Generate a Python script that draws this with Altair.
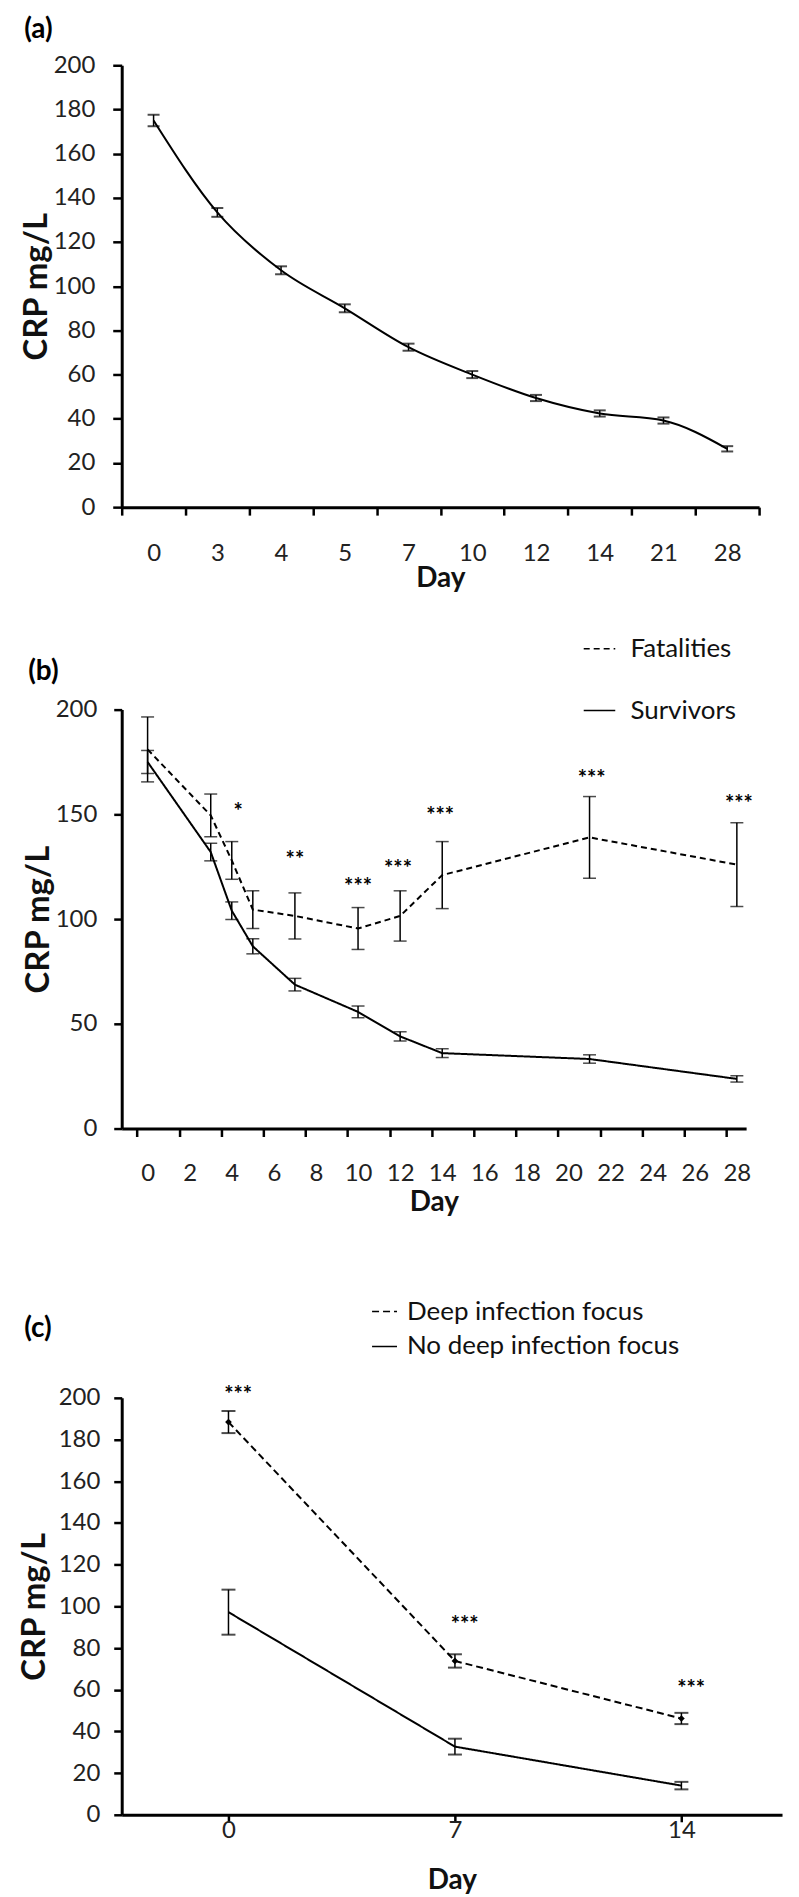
import altair as alt
import pandas as pd

FONT = "Lato"

# ---------------- Panel (a) ----------------
a_days = ["0", "3", "4", "5", "7", "10", "12", "14", "21", "28"]
a_mean = [175.0, 133.4, 107.2, 90.0, 72.4, 60.0, 49.4, 42.4, 39.2, 26.4]
a_err = [2.6, 2.0, 1.8, 1.8, 1.6, 1.6, 1.4, 1.4, 1.4, 1.2]

# ---------------- Panel (b) ----------------
b_days = [0, 3, 4, 5, 7, 10, 12, 14, 21, 28]
b_fatal_mean = [181.0, 149.5, 128.0, 104.5, 101.5, 95.5, 101.5, 121.0, 139.0, 126.0]
b_fatal_err = [15.5, 10.2, 9.0, 9.0, 11.0, 10.0, 12.0, 16.0, 19.5, 20.0]
b_surv_mean = [175.0, 132.0, 104.0, 87.0, 68.7, 55.7, 44.0, 36.0, 33.2, 23.7]
b_surv_err = [5.5, 4.2, 4.2, 3.6, 3.0, 2.8, 2.2, 2.1, 2.0, 1.5]
b_star_days = [4.3, 7.0, 10.0, 11.9, 13.9, 21.1, 28.1]
b_star_y = [151.0, 128.0, 115.5, 124.0, 149.0, 167.0, 155.0]
b_star_text = ["*", "**", "***", "***", "***", "***", "***"]
b_groups = ["Fatalities", "Survivors"]

# ---------------- Panel (c) ----------------
c_days = [0, 7, 14]
c_deep_mean = [188.4, 73.8, 46.2]
c_deep_err = [5.3, 3.2, 2.7]
c_nodeep_mean = [97.2, 32.7, 14.0]
c_nodeep_err = [10.8, 3.8, 1.8]
c_star_days = [0.3, 7.3, 14.3]
c_star_y = [201.5, 91.0, 60.5]
c_star_text = ["***", "***", "***"]
c_groups = ["Deep infection focus", "No deep infection focus"]

BLACK = "black"
TICK_FS = 24
YTITLE_FS = 33
LEG_FS = 26
STAR_FS = 22
PANEL_FS = 28


def yenc(field, values, tick, pad, tpad):
    return alt.Y(
        f"{field}:Q",
        scale=alt.Scale(domain=[0, 200], nice=False, zero=True),
        title="CRP mg/L",
        axis=alt.Axis(values=values, tickSize=tick, labelPadding=pad, titlePadding=tpad,
                      titleFontSize=YTITLE_FS, grid=False, labelFlush=False, labelOverlap=False),
    )


def panel_title(txt, off, dx=0):
    return alt.TitleParams(txt, anchor="start", frame="bounds", fontSize=PANEL_FS, font=FONT,
                           fontWeight="bold", offset=off, dx=dx, color=BLACK)


# ---------- build panel (a) ----------
da = pd.DataFrame({"idx": list(range(len(a_days))), "day": a_days, "mean": a_mean, "err": a_err})
da["lo"] = da["mean"] - da["err"]
da["hi"] = da["mean"] + da["err"]

A_W, A_H = 639, 443
a_band = A_W / len(a_days)
a_tickvals = [i - 0.5 for i in range(len(a_days) + 1)]
a_arr = "[" + ",".join(f"'{d}'" for d in a_days) + "]"
a_xaxis = alt.Axis(values=a_tickvals,
                   labelExpr=f"datum.value < {len(a_days) - 1} ? {a_arr}[round(datum.value + 0.5)] : ''",
                   labelOffset=a_band / 2, tickSize=8, labelPadding=26, titlePadding=0,
                   grid=False, labelFlush=False, labelOverlap=False)


def xa(field):
    return alt.X(f"{field}:Q", scale=alt.Scale(domain=[-0.5, len(a_days) - 0.5], nice=False, zero=False),
                 title="Day", axis=a_xaxis)


a_yvals = list(range(0, 201, 20))
ya = lambda f: yenc(f, a_yvals, 9, 18, 0)
a_base = alt.Chart(da)
a_line = a_base.mark_line(color=BLACK, strokeWidth=2, interpolate="monotone").encode(
    x=xa("idx"), y=ya("mean"))
a_rule = a_base.mark_rule(color=BLACK, strokeWidth=1.5).encode(
    x=xa("idx"), y=ya("lo"), y2="hi:Q")
a_caps = a_base.transform_fold(["lo", "hi"], as_=["cap", "yv"]).mark_tick(
    orient="horizontal", size=12, thickness=2, color=BLACK).encode(
    x=xa("idx"), y=ya("yv"))
panel_a = alt.layer(a_line, a_rule, a_caps).properties(
    width=A_W, height=A_H, title=panel_title("(a)", 9, 4))

# ---------- build panel (b) ----------
rows = []
for g, means, errs in [(b_groups[0], b_fatal_mean, b_fatal_err), (b_groups[1], b_surv_mean, b_surv_err)]:
    for d, m, e in zip(b_days, means, errs):
        rows.append({"day": d, "grp": g, "mean": m, "lo": m - e, "hi": m + e})
dbb = pd.DataFrame(rows)
dbs = pd.DataFrame({"day": b_star_days, "y": b_star_y, "txt": b_star_text})

B_W, B_H = 626, 420
b_dom = [-1.23, 28.44]
b_pxday = B_W / (b_dom[1] - b_dom[0])
b_xaxis = alt.Axis(values=[v - 0.5 for v in range(0, 29, 2)],
                   labelExpr="format(datum.value + 0.5, 'd')",
                   labelOffset=b_pxday / 2, tickSize=8, labelPadding=25, titlePadding=3,
                   grid=False, labelFlush=False, labelOverlap=False)


def xb(field):
    return alt.X(f"{field}:Q", scale=alt.Scale(domain=b_dom, nice=False, zero=False),
                 title="Day", axis=b_xaxis)


b_yvals = [0, 50, 100, 150, 200]
yb = lambda f: yenc(f, b_yvals, 8, 17, 0)
b_dash = alt.StrokeDash(
    "grp:N",
    scale=alt.Scale(domain=b_groups, range=[[6, 4], [1, 0]]),
    legend=alt.Legend(title=None, orient="none", legendX=462, legendY=-78, symbolType="stroke",
                      symbolSize=1000, symbolStrokeWidth=1.5, symbolStrokeColor=BLACK,
                      labelFontSize=LEG_FS, labelFont=FONT, labelColor="#111", rowPadding=32,
                      labelOffset=14, labelLimit=0),
)
b_base = alt.Chart(dbb)
b_line = b_base.mark_line(color=BLACK, strokeWidth=2).encode(
    x=xb("day"), y=yb("mean"), strokeDash=b_dash, detail="grp:N")
b_rule = b_base.mark_rule(color=BLACK, strokeWidth=1.5).encode(
    x=xb("day"), y=yb("lo"), y2="hi:Q")
b_caps = b_base.transform_fold(["lo", "hi"], as_=["cap", "yv"]).mark_tick(
    orient="horizontal", size=13, thickness=1.5, color=BLACK).encode(
    x=xb("day"), y=yb("yv"))
b_stars = alt.Chart(dbs).mark_text(font=FONT, fontWeight="bold", fontSize=STAR_FS, color=BLACK,
                                   baseline="middle").encode(
    x=xb("day"), y=yb("y"), text="txt:N")
panel_b = alt.layer(b_line, b_rule, b_caps, b_stars).properties(
    width=B_W, height=B_H, title=panel_title("(b)", -54, 6))

# ---------- build panel (c) ----------
rows = []
for g, means, errs in [(c_groups[0], c_deep_mean, c_deep_err), (c_groups[1], c_nodeep_mean, c_nodeep_err)]:
    for d, m, e in zip(c_days, means, errs):
        rows.append({"day": d, "grp": g, "mean": m, "lo": m - e, "hi": m + e})
dcc = pd.DataFrame(rows)
dcs = pd.DataFrame({"day": c_star_days, "y": c_star_y, "txt": c_star_text})

C_W, C_H = 662, 418
c_dom = [-3.30, 17.11]
c_xaxis = alt.Axis(values=c_days, tickSize=7, labelPadding=-3, titlePadding=24,
                   grid=False, labelFlush=False, labelOverlap=False)


def xc(field):
    return alt.X(f"{field}:Q", scale=alt.Scale(domain=c_dom, nice=False, zero=False),
                 title="Day", axis=c_xaxis)


c_yvals = list(range(0, 201, 20))
yc = lambda f: yenc(f, c_yvals, 8, 14, 7)
c_dash = alt.StrokeDash(
    "grp:N",
    scale=alt.Scale(domain=c_groups, range=[[7, 4], [1, 0]]),
    legend=alt.Legend(title=" ", titleFontSize=30, titlePadding=13, orient="none",
                      legendX=250, legendY=-143, symbolType="stroke",
                      symbolSize=625, symbolStrokeWidth=1.5, symbolStrokeColor=BLACK,
                      labelFontSize=LEG_FS, labelFont=FONT, labelColor="#111", rowPadding=8,
                      labelOffset=9, labelLimit=0),
)
c_base = alt.Chart(dcc)
c_line = c_base.mark_line(color=BLACK, strokeWidth=2).encode(
    x=xc("day"), y=yc("mean"), strokeDash=c_dash, detail="grp:N")
c_pts = c_base.transform_filter(alt.datum.grp == c_groups[0]).mark_point(
    shape="diamond", filled=True, size=45, color=BLACK, opacity=1).encode(
    x=xc("day"), y=yc("mean"))
c_rule = c_base.mark_rule(color=BLACK, strokeWidth=1.5).encode(
    x=xc("day"), y=yc("lo"), y2="hi:Q")
c_caps = c_base.transform_fold(["lo", "hi"], as_=["cap", "yv"]).mark_tick(
    orient="horizontal", size=14, thickness=2, color=BLACK).encode(
    x=xc("day"), y=yc("yv"))
c_stars = alt.Chart(dcs).mark_text(font=FONT, fontWeight="bold", fontSize=STAR_FS, color=BLACK,
                                   baseline="middle").encode(
    x=xc("day"), y=yc("y"), text="txt:N")
panel_c = alt.layer(c_line, c_pts, c_rule, c_caps, c_stars).properties(
    width=C_W, height=C_H, title=panel_title("(c)", -88, 6))

chart = alt.concat(panel_a, panel_b, panel_c, columns=1, spacing=39, align="none").resolve_scale(
    strokeDash="independent").resolve_legend(strokeDash="independent").properties(
    padding={"left": 10, "top": 6, "right": 0, "bottom": 0}
).configure(font=FONT, background="white").configure_view(stroke=None).configure_axis(
    domainColor=BLACK, domainWidth=3, tickColor=BLACK, tickWidth=2.5,
    labelFont=FONT, labelFontSize=TICK_FS, labelColor="#222",
    titleFont=FONT, titleFontSize=28, titleFontWeight="bold", titleColor="#111",
)

chart.save("out.html", embed_options={"renderer": "svg", "actions": False})
